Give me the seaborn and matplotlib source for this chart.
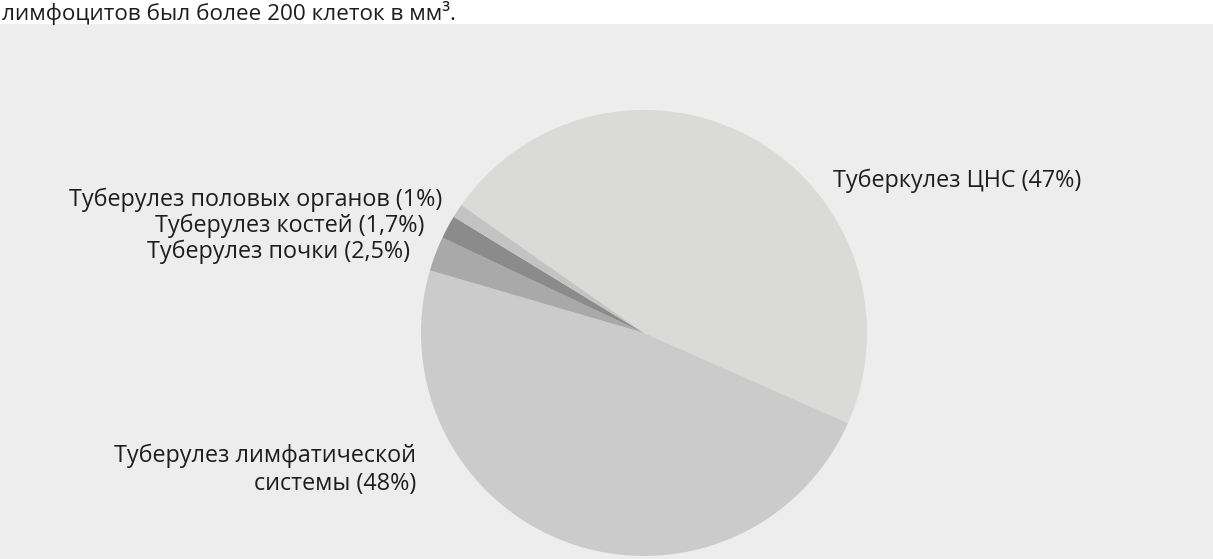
import matplotlib
matplotlib.use("Agg")
import matplotlib.pyplot as plt
import seaborn as sns
from matplotlib.patches import Rectangle

# Distribution of extrapulmonary tuberculosis forms
categories = [
    "Туберкулез ЦНС",
    "Туберулез лимфатической\nсистемы",
    "Туберулез почки",
    "Туберулез костей",
    "Туберулез половых органов",
]
shares = [47, 48, 2.5, 1.7, 1]
share_text = ["47%", "48%", "2,5%", "1,7%", "1%"]
colors = ["#dadad8", "#cbcbcb", "#a9a9a9", "#8b8b8b", "#c3c3c3"]

sns.set_theme(style="white")
plt.rcParams["font.family"] = ["Open Sans", "DejaVu Sans"]

W, H = 1213, 559
fig = plt.figure(figsize=(W / 100, H / 100), dpi=100)
fig.patch.set_facecolor("white")
ax = fig.add_axes([0, 0, 1, 1])


def up(y):
    """Convert a top-based pixel row to the axes' upward y coordinate."""
    return H - y


# page panel behind the chart
ax.add_patch(Rectangle((0, 0), W, up(24), facecolor="#ecedec", edgecolor="none", zorder=0))

ax.pie(
    shares,
    colors=colors,
    startangle=145,
    counterclock=False,
    center=(644, up(333)),
    radius=223,
    wedgeprops=dict(linewidth=0),
)
ax.set_xlim(0, W)
ax.set_ylim(0, H)
ax.set_aspect("equal")
ax.axis("off")

fs = 16.8
labels = [f"{c} ({t})" for c, t in zip(categories, share_text)]
# label anchors: (x, y-from-top, horizontal alignment)
anchors = [
    (833, 181, "left"),
    (416, 470, "right"),
    (410, 252, "right"),
    (424, 226, "right"),
    (442, 200, "right"),
]
for lab, (x, y, ha) in zip(labels, anchors):
    ax.text(x, up(y), lab, ha=ha, va="center", fontsize=fs, color="#1e1e1e",
            multialignment="right" if ha == "right" else "left", linespacing=1.2)

# tail of the preceding paragraph
ax.text(2, up(20), "лимфоцитов был более 200 клеток в мм³.", ha="left", va="baseline",
        fontsize=16.2, color="#1e1e1e")

fig.savefig("out.png", dpi=100)
